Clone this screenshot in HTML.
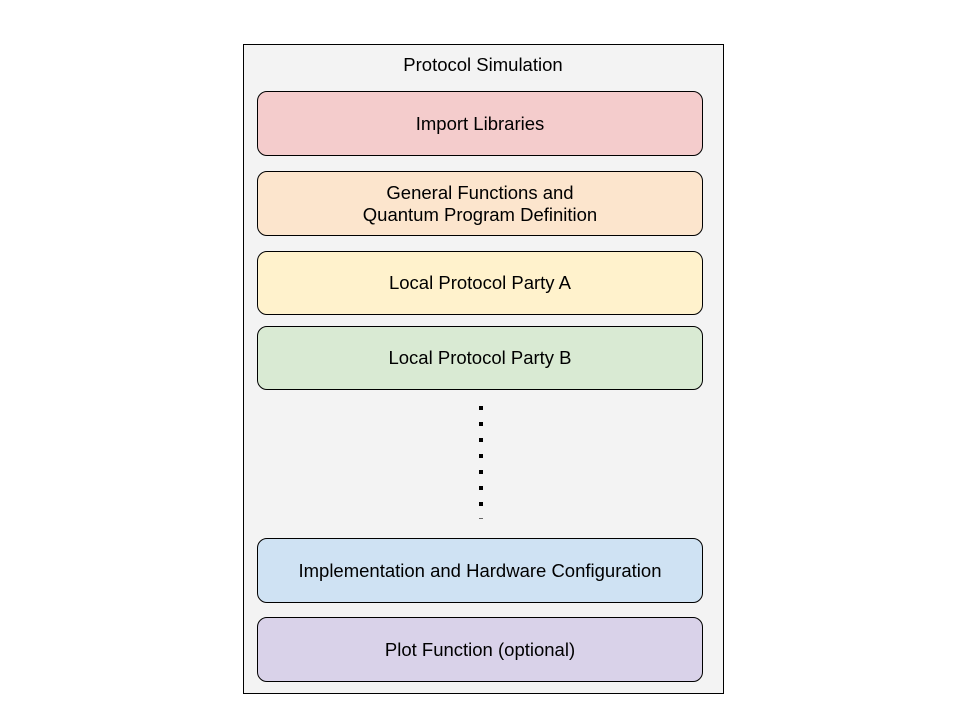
<!DOCTYPE html>
<html><head><style>
body{margin:0;width:960px;height:720px;background:#fff;position:relative;font-family:"Liberation Sans",Arial,sans-serif;}
.outer{position:absolute;left:243px;top:44px;width:481px;height:650px;border:1px solid #000;background:#f3f3f3;box-sizing:border-box;}
.t{position:absolute;left:243px;top:54px;width:480px;text-align:center;font-size:18.5px;}
.b{position:absolute;left:257px;width:446px;border:1px solid #000;border-radius:10px;box-sizing:border-box;display:flex;align-items:center;justify-content:center;text-align:center;font-size:18.5px;line-height:22px;}
.d{position:absolute;left:479px;width:4px;height:4px;background:#000;}
</style></head><body>
<div class="outer"></div>
<div class="t">Protocol Simulation</div>
<div class="b" style="top:91px;height:65px;background:#f4cccc">Import Libraries</div>
<div class="b" style="top:171px;height:65px;background:#fce5cd">General Functions and<br>Quantum Program Definition</div>
<div class="b" style="top:251px;height:64px;background:#fff2cc">Local Protocol Party A</div>
<div class="b" style="top:326px;height:64px;background:#d9ead3">Local Protocol Party B</div>
<div class="d" style="top:406px"></div>
<div class="d" style="top:422px"></div>
<div class="d" style="top:438px"></div>
<div class="d" style="top:454px"></div>
<div class="d" style="top:470px"></div>
<div class="d" style="top:486px"></div>
<div class="d" style="top:502px"></div>
<div class="d" style="top:518px;height:1px;background:#666"></div>
<div class="b" style="top:538px;height:65px;background:#cfe2f3">Implementation and Hardware Configuration</div>
<div class="b" style="top:617px;height:65px;background:#d9d2e9">Plot Function (optional)</div>
</body></html>
